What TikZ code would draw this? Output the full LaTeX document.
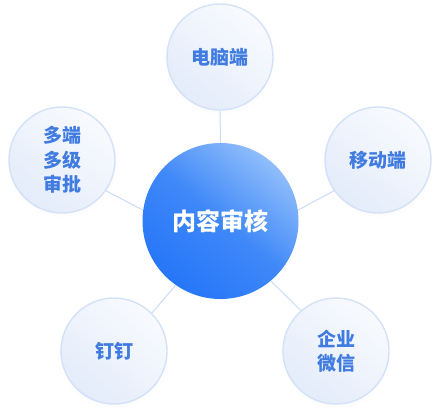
\documentclass[tikz,border=0pt]{standalone}
\usepackage{fontspec}
\newfontfamily\cjk{Noto Sans CJK SC}
\usetikzlibrary{shadows}
\definecolor{txtblue}{HTML}{3F7BE0}
\definecolor{ringc}{HTML}{D3E2F8}
\definecolor{linec}{HTML}{C9DBF5}
\definecolor{outlight}{HTML}{F8FAFE}
\definecolor{outdark}{HTML}{E4ECFA}
\definecolor{cenlight}{HTML}{90BDFB}
\definecolor{cenmid}{HTML}{3F88F8}
\definecolor{cendark}{HTML}{2676F8}
\tikzset{
  outer/.style={circle, minimum size=106pt, inner sep=0pt, draw=ringc, line width=1.4pt,
    top color=outlight, bottom color=outdark, shading angle=-40,
    circular drop shadow={opacity=0.06, shadow xshift=0pt, shadow yshift=-2pt, shadow scale=1.05},
    font=\cjk\bfseries\fontsize{19}{24.5}\selectfont, text=txtblue, align=center},
  centre/.style={circle, minimum size=156pt, inner sep=0pt,
    top color=cenlight, bottom color=cendark, middle color=cenmid, shading angle=-40,
    font=\cjk\bfseries\fontsize{24}{28}\selectfont, text=white},
  conn/.style={draw=linec, line width=1pt}
}
\begin{document}
\begin{tikzpicture}[x=1pt,y=-1pt]
\useasboundingbox (0,0) rectangle (435,414);
% nodes
\node[centre] (c) at (220.5,221) {内容审核};
\node[outer] (top) at (220,57) {电脑端};
\node[outer] (lft) at (62,160) {多端\\多级\\审批};
\node[outer] (rgt) at (378,160) {移动端};
\node[outer] (bl) at (114,351) {钉钉};
\node[outer] (br) at (336,351) {企业\\微信};
% connectors
\draw[conn] (top.south) -- (c.north);
\draw[conn] (lft.-35) -- (c.172);
\draw[conn] (rgt.-145) -- (c.8);
\draw[conn] (bl.45) -- (c.-125);
\draw[conn] (br.131) -- (c.-50);
\end{tikzpicture}
\end{document}
